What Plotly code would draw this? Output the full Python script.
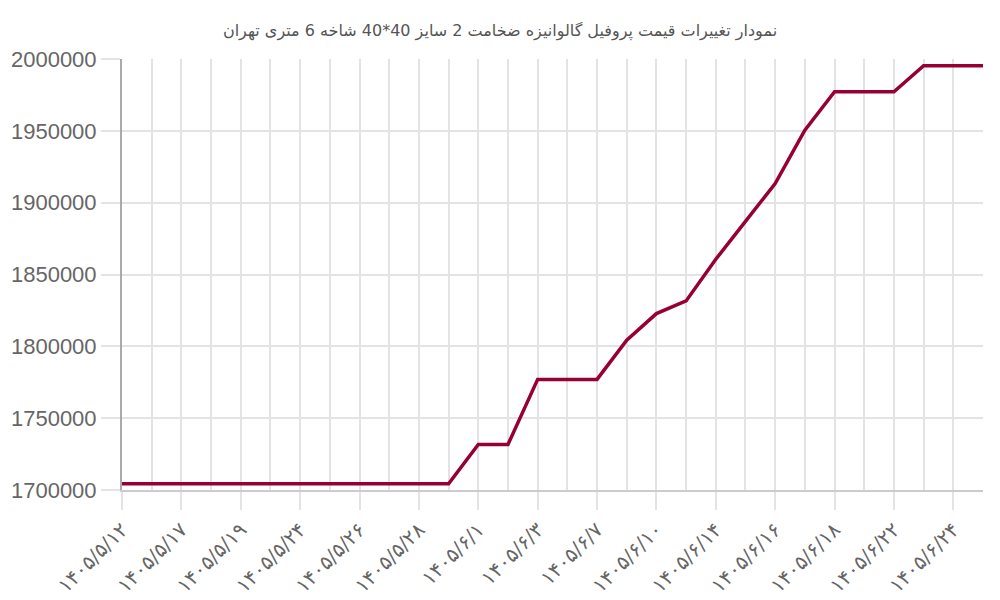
import plotly.graph_objects as go

CHART_TITLE = 'نمودار تغییرات قیمت پروفیل گالوانیزه ضخامت 2 سایز 40*40 شاخه 6 متری تهران'

# قیمت ها (ریال) - یک مقدار برای هر روز ثبت شده
PRICES = [
    1704300, 1704300, 1704300, 1704300, 1704300, 1704300,
    1704300, 1704300, 1704300, 1704300, 1704300, 1704300,
    1731700, 1731700,
    1777000, 1777000, 1777000,
    1804200, 1822800, 1831600, 1860600, 1887000, 1913300, 1950500,
    1977200, 1977200, 1977200,
    1995300, 1995300, 1995300,
]

# only every second day gets a label on the axis
TICK_LABELS = [
    '۱۴۰۵/۵/۱۲', '۱۴۰۵/۵/۱۷', '۱۴۰۵/۵/۱۹', '۱۴۰۵/۵/۲۴', '۱۴۰۵/۵/۲۶',
    '۱۴۰۵/۵/۲۸', '۱۴۰۵/۶/۱', '۱۴۰۵/۶/۳', '۱۴۰۵/۶/۷', '۱۴۰۵/۶/۱۰',
    '۱۴۰۵/۶/۱۴', '۱۴۰۵/۶/۱۶', '۱۴۰۵/۶/۱۸', '۱۴۰۵/۶/۲۲', '۱۴۰۵/۶/۲۴',
]
LABEL_STEP = 2

Y_TICKS = [1700000, 1750000, 1800000, 1850000, 1900000, 1950000, 2000000]

LINE_COLOR = '#960032'
GRID_COLOR = '#e3e3e3'
AXIS_COLOR = '#aaaaaa'
TEXT_COLOR = '#666666'
FONT_FAMILY = 'Liberation Sans, Arial, DejaVu Sans, sans-serif'

day_index = list(range(len(PRICES)))
tick_positions = day_index[::LABEL_STEP][:len(TICK_LABELS)]

fig = go.Figure()
fig.add_trace(go.Scatter(
    x=day_index,
    y=PRICES,
    mode='lines',
    line=dict(color=LINE_COLOR, width=3.5),
    hovertemplate='%{y}<extra></extra>',
))

fig.update_xaxes(
    range=[0, len(PRICES) - 1],
    tickvals=tick_positions,
    ticktext=TICK_LABELS,
    tickangle=-45,
    tickfont=dict(size=20, color=TEXT_COLOR, family='DejaVu Sans, sans-serif'),
    ticks='outside',
    ticklen=18,
    tickcolor=GRID_COLOR,
    tickwidth=2,
    showgrid=True,
    gridcolor=GRID_COLOR,
    gridwidth=1.5,
    minor=dict(dtick=1, tick0=0, showgrid=True, gridcolor=GRID_COLOR, gridwidth=1.5),
    showline=True,
    linecolor='#cccccc',
    linewidth=2,
    zeroline=False,
    automargin=False,
)
fig.update_yaxes(
    range=[Y_TICKS[0], Y_TICKS[-1]],
    tickvals=Y_TICKS,
    tickformat='d',
    tickfont=dict(size=22, color=TEXT_COLOR, family=FONT_FAMILY),
    ticks='outside',
    ticklen=19,
    tickcolor=GRID_COLOR,
    tickwidth=1.5,
    showgrid=True,
    gridcolor=GRID_COLOR,
    gridwidth=1.5,
    showline=True,
    linecolor=AXIS_COLOR,
    linewidth=2,
    zeroline=False,
    automargin=False,
)

# the page adds an 8px body margin, so the figure is offset to match
fig.update_layout(
    width=1000,
    height=600,
    title=dict(
        text=CHART_TITLE,
        x=0.492,
        xanchor='center',
        y=0.963,
        yref='container',
        yanchor='middle',
        font=dict(size=16, color='#555555', family='DejaVu Sans, sans-serif'),
        automargin=False,
    ),
    margin=dict(l=114, r=25, t=51, b=118),
    plot_bgcolor='white',
    paper_bgcolor='white',
    showlegend=False,
)

fig.write_html('out.html')
